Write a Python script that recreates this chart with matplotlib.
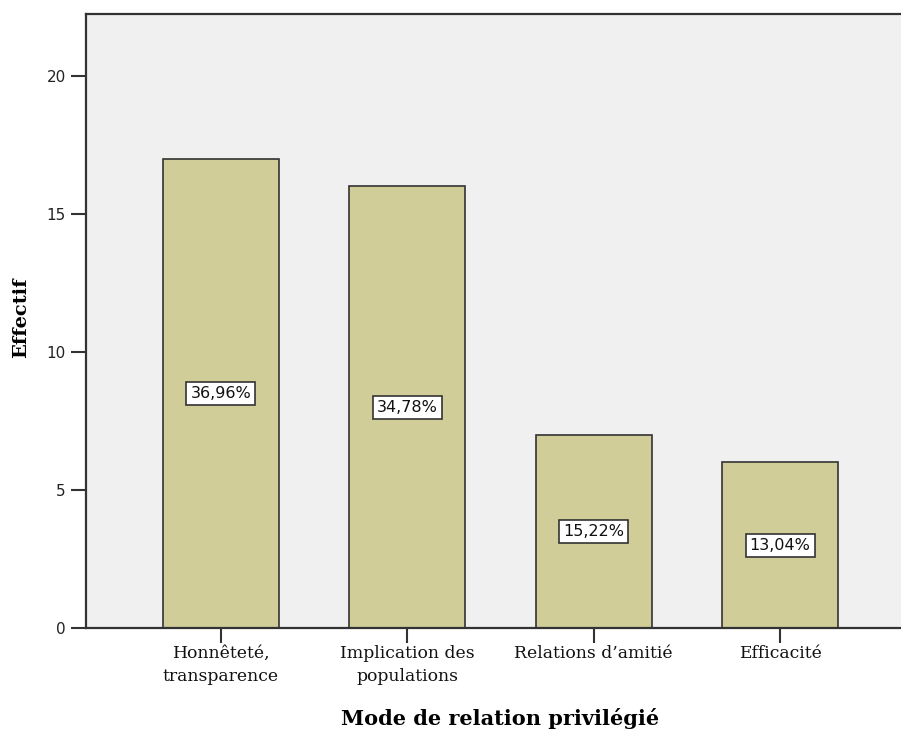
import matplotlib.pyplot as plt
import numpy as np

categories = ['Honnêteté,\ntransparence', 'Implication des\npopulations', 'Relations d\u2019amitié', 'Efficacité']
counts = [17, 16, 7, 6]
percents = ['36,96%', '34,78%', '15,22%', '13,04%']

fig = plt.figure(figsize=(9.01, 7.31), dpi=100)
ax = fig.add_axes([0.0955, 0.141, 0.92, 0.840])
ax.set_facecolor('#f0f0f0')

x = np.arange(len(categories))
ax.bar(x, counts, width=0.62, color='#d0cd98', edgecolor='#333333', linewidth=1.2, zorder=2)

# percentage boxes in the middle of each bar
for xi, c, p in zip(x, counts, percents):
    ax.text(xi, c / 2, p, ha='center', va='center', fontsize=11.5, family='DejaVu Sans',
            color='#111111', zorder=3,
            bbox=dict(boxstyle='square,pad=0.25', facecolor='white', edgecolor='#333333', linewidth=1.2))

ax.set_xlim(-0.723, 3.723)
ax.set_ylim(0, 22.24)
ax.set_yticks([0, 5, 10, 15, 20])
ax.set_xticks(x)
ax.set_xticklabels(categories, family='DejaVu Serif', fontsize=12.4, linespacing=1.5)
ax.tick_params(axis='y', length=11, width=1.5, color='#333333', labelsize=11, labelcolor='#222222')
ax.tick_params(axis='x', length=11, width=1.5, color='#333333', labelcolor='#111111', pad=1)

for s in ['left', 'bottom', 'top']:
    ax.spines[s].set_linewidth(1.6)
    ax.spines[s].set_color('#333333')
ax.spines['right'].set_visible(False)

ax.set_ylabel('Effectif', family='DejaVu Serif', fontweight='bold', fontsize=14, va='center')
ax.yaxis.set_label_coords(-0.078, 0.505)
ax.set_xlabel('Mode de relation privilégié', family='DejaVu Serif', fontweight='bold', fontsize=15, va='center')
ax.xaxis.set_label_coords(0.4995, -0.147)

plt.savefig('out.png', dpi=100)
